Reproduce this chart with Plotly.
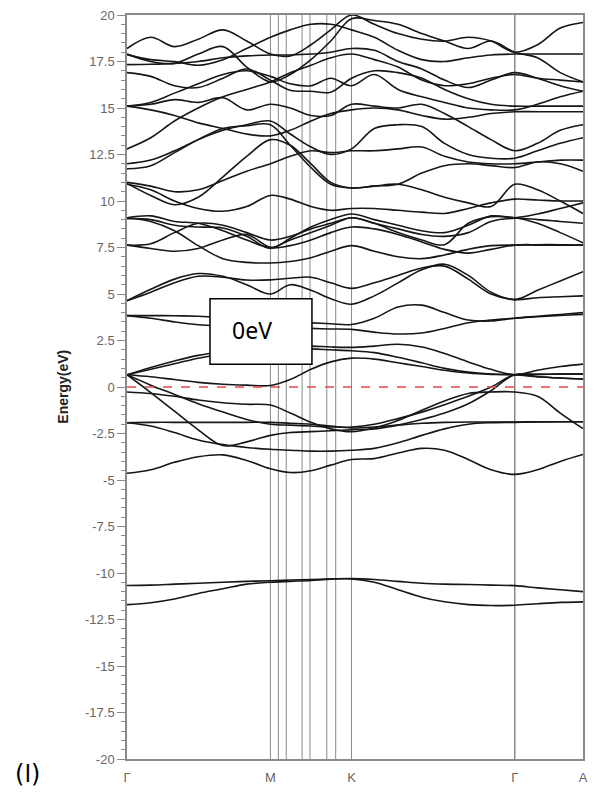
import plotly.graph_objects as go

# ---- k-path (distance along Γ-M-K-Γ-A) ----
k_samples = [0, 24, 48, 72, 97, 121, 145, 165, 186, 206, 227, 250, 274, 298, 321, 345, 368, 392, 415, 438, 461]
sym_points = [0, 145, 227, 392, 461]
sym_labels = ["Γ", "M", "K", "Γ", "A"]
kpath_lines = [145, 153, 161, 177, 185, 202, 211, 227, 392]

y_tickvals = [20, 17.5, 15, 12.5, 10, 7.5, 5, 2.5, 0, -2.5, -5, -7.5, -10, -12.5, -15, -17.5, -20]
y_ticktext = ["20", "17.5", "15", "12.5", "10", "7.5", "5", "2.5", "0", "-2.5", "-5", "-7.5", "-10", "-12.5", "-15", "-17.5", "-20"]
fermi_energy = 0.0

# ---- bands (eV) at k_samples ----
band_s1 = [-10.67, -10.65, -10.6, -10.55, -10.5, -10.45, -10.42, -10.38, -10.35, -10.32, -10.3, -10.35, -10.45, -10.55, -10.6, -10.62, -10.65, -10.68, -10.8, -10.9, -11.0]
band_s2 = [-11.7, -11.6, -11.4, -11.1, -10.85, -10.6, -10.5, -10.45, -10.4, -10.33, -10.32, -10.5, -10.9, -11.3, -11.55, -11.7, -11.75, -11.73, -11.65, -11.58, -11.55]

band_v1 = [-4.64, -4.45, -4.05, -3.75, -3.65, -3.95, -4.4, -4.6, -4.5, -4.2, -3.9, -3.85, -3.55, -3.3, -3.4, -3.9, -4.45, -4.7, -4.45, -4.0, -3.63]
band_v2 = [-1.92, -2.1, -2.45, -2.85, -3.1, -3.25, -3.35, -3.4, -3.45, -3.45, -3.4, -3.3, -3.0, -2.6, -2.25, -2.0, -1.92, -1.9, -1.88, -1.87, -1.87]
band_v3 = [-1.92, -1.9, -1.9, -1.9, -1.9, -1.9, -1.9, -1.95, -2.0, -2.1, -2.2, -2.15, -2.05, -1.95, -1.9, -1.88, -1.88, -1.88, -1.87, -1.87, -1.87]
band_v4 = [0.66, -0.3, -1.3, -2.3, -3.15, -2.95, -2.6, -2.45, -2.4, -2.35, -2.3, -2.25, -2.05, -1.75, -1.4, -0.9, -0.2, 0.66, 0.55, 0.48, 0.43]
band_v5 = [0.66, 0.1, -0.4, -0.9, -1.35, -1.75, -2.0, -2.05, -2.1, -2.15, -2.15, -2.0, -1.7, -1.35, -0.95, -0.5, 0.0, 0.66, 0.68, 0.69, 0.69]
band_v6 = [-0.27, -0.35, -0.5, -0.7, -0.85, -0.93, -0.97, -1.4, -1.9, -2.25, -2.4, -2.2, -1.8, -1.25, -0.75, -0.35, -0.27, -0.27, -0.5, -1.4, -2.24]
band_c1 = [0.66, 0.55, 0.4, 0.25, 0.15, 0.1, 0.08, 0.4, 0.95, 1.35, 1.55, 1.5, 1.3, 1.1, 0.9, 0.75, 0.68, 0.66, 0.55, 0.48, 0.43]
band_c2 = [0.66, 0.95, 1.25, 1.55, 1.75, 1.9, 2.0, 2.05, 2.05, 2.0, 1.95, 1.85, 1.6, 1.3, 1.0, 0.8, 0.7, 0.66, 0.68, 0.69, 0.69]
band_c3 = [0.66, 1.05, 1.4, 1.7, 1.9, 2.05, 2.15, 2.2, 2.2, 2.15, 2.13, 2.2, 2.3, 2.15, 1.8, 1.35, 0.95, 0.66, 0.9, 1.1, 1.23]
band_c4 = [3.84, 3.7, 3.5, 3.35, 3.3, 3.28, 3.25, 3.2, 3.15, 3.12, 3.1, 2.95, 2.85, 2.9, 3.15, 3.45, 3.6, 3.7, 3.78, 3.85, 3.9]
band_c5 = [3.84, 3.84, 3.83, 3.8, 3.75, 3.65, 3.55, 3.5, 3.45, 3.4, 3.36, 3.7, 4.3, 4.4, 4.0, 3.6, 3.55, 3.7, 3.8, 3.9, 4.0]
band_c6 = [4.64, 5.25, 5.8, 6.1, 5.95, 5.5, 5.0, 5.5, 5.2, 4.75, 4.45, 4.9, 5.6, 6.3, 6.6, 6.0, 5.1, 4.7, 5.2, 5.7, 6.2]
band_c7 = [4.64, 5.1, 5.6, 5.95, 5.9, 5.75, 5.76, 5.85, 5.9, 5.6, 5.3, 5.6, 6.0, 6.4, 6.5, 5.8, 5.0, 4.7, 4.8, 4.85, 4.9]
band_c8 = [9.1, 8.9, 8.4, 7.6, 6.9, 6.7, 6.67, 6.75, 6.95, 7.3, 7.6, 7.3, 7.0, 6.9, 7.1, 7.4, 7.6, 7.63, 7.63, 7.63, 7.63]
band_c9 = [7.63, 7.7, 8.3, 8.8, 8.7, 8.3, 7.9, 8.1, 8.5, 8.8, 9.1, 8.8, 8.3, 7.9, 7.65, 8.8, 9.15, 9.1, 8.8, 8.3, 7.75]
band_c10 = [7.63, 7.45, 7.3, 7.45, 7.9, 8.2, 7.5, 7.6, 7.9, 8.3, 8.6, 8.5, 8.2, 7.8, 7.4, 7.2, 7.4, 7.63, 7.65, 7.65, 7.63]
band_c11 = [9.1, 9.2, 8.9, 8.8, 8.4, 7.9, 7.5, 7.9, 8.3, 8.7, 9.1, 8.8, 8.5, 8.2, 8.1, 8.3, 8.9, 9.07, 9.0, 8.9, 8.8]
band_c12 = [9.05, 9.0, 8.7, 8.6, 8.55, 8.1, 7.45, 8.0, 8.6, 9.0, 9.3, 9.0, 8.7, 8.4, 8.3, 8.7, 9.2, 9.1, 9.3, 9.6, 9.9]
band_c13 = [10.9, 10.6, 10.0, 9.6, 9.45, 9.7, 10.3, 10.1, 9.7, 9.5, 9.6, 9.6, 9.5, 9.4, 9.33, 9.6, 9.9, 10.1, 10.05, 10.0, 10.0]
band_c14 = [10.95, 10.3, 9.8, 10.2, 11.3, 12.4, 13.3, 13.0, 12.0, 11.0, 10.7, 10.8, 10.9, 10.6, 10.2, 9.9, 9.7, 10.9, 10.6, 10.0, 9.33]
band_c15 = [12.0, 12.2, 12.7, 13.3, 13.8, 14.1, 14.3, 13.6, 12.9, 12.5, 12.8, 13.9, 14.1, 14.0, 13.1, 12.5, 12.3, 12.3, 12.7, 13.1, 13.4]
band_c16 = [11.73, 11.9, 12.6, 13.3, 13.9, 14.05, 14.1, 13.0, 11.8, 10.9, 10.7, 10.8, 10.9, 11.5, 11.9, 12.0, 11.9, 11.8, 12.1, 12.0, 11.6]
band_c17 = [11.0, 10.8, 10.5, 10.6, 11.1, 11.6, 12.0, 12.4, 12.7, 12.6, 12.7, 12.7, 12.8, 12.9, 12.4, 12.1, 12.0, 12.0, 12.1, 12.2, 12.2]
band_c18 = [15.1, 15.2, 15.45, 15.3, 15.55, 14.9, 15.2, 15.0, 14.6, 14.6, 15.2, 15.1, 15.0, 15.2, 14.7, 14.0, 13.3, 12.7, 13.1, 13.8, 14.1]
band_c19 = [15.1, 14.9, 14.6, 14.2, 13.9, 13.6, 13.5, 13.8, 14.3, 14.7, 14.9, 15.0, 14.9, 14.6, 14.4, 14.5, 14.7, 14.8, 14.8, 14.8, 14.8]
band_c20 = [12.8, 13.4, 14.3, 15.0, 15.6, 16.0, 16.4, 16.9, 17.3, 17.7, 17.9, 17.6, 17.2, 16.5, 16.2, 16.3, 16.6, 16.8, 16.6, 16.5, 16.4]
band_c21 = [18.2, 18.8, 18.3, 18.7, 19.2, 18.6, 17.9, 17.8, 18.4, 19.2, 20.0, 19.5, 19.0, 18.7, 18.6, 18.8, 18.6, 18.0, 18.4, 19.3, 19.6]
band_c22 = [17.9, 17.5, 17.4, 17.9, 18.3, 17.2, 16.4, 16.8, 17.6, 18.6, 19.8, 19.7, 19.5, 19.0, 18.6, 18.2, 18.6, 18.0, 17.7, 16.9, 16.4]
band_c23 = [17.33, 17.35, 17.4, 17.5, 17.7, 17.8, 17.85, 17.85, 17.9, 18.0, 18.2, 18.1, 17.5, 17.1, 16.5, 16.1, 16.5, 16.9, 16.6, 16.2, 15.9]
band_c24 = [16.9, 16.7, 16.2, 16.1, 16.6, 17.1, 16.5, 15.95, 15.9, 15.85, 16.6, 17.0, 16.9, 16.6, 16.0, 15.5, 15.2, 15.1, 15.1, 15.1, 15.1]
band_c25 = [17.87, 17.6, 17.5, 17.3, 17.6, 18.2, 18.8, 19.2, 19.5, 19.5, 19.2, 18.8, 18.1, 17.6, 17.5, 17.7, 17.85, 17.9, 17.9, 17.9, 17.9]
band_c26 = [15.1, 15.3, 15.8, 16.3, 16.8, 17.0, 16.7, 16.3, 16.2, 16.6, 16.2, 16.8, 16.0, 15.6, 15.3, 15.0, 14.9, 14.9, 15.2, 15.6, 15.9]

bands = [band_s1, band_s2, band_v1, band_v2, band_v3, band_v4, band_v5, band_v6,
         band_c1, band_c2, band_c3, band_c4, band_c5, band_c6, band_c7, band_c8,
         band_c9, band_c10, band_c11, band_c12, band_c13, band_c14, band_c15,
         band_c16, band_c17, band_c18, band_c19, band_c20, band_c21, band_c22,
         band_c23, band_c24, band_c25, band_c26]

fig = go.Figure()

for b in bands:
    fig.add_trace(go.Scatter(x=k_samples, y=b, mode="lines",
                             line=dict(color="#161616", width=1.6, shape="spline", smoothing=1.0),
                             showlegend=False, hoverinfo="skip"))

# Fermi level
fig.add_trace(go.Scatter(x=[sym_points[0], sym_points[-1]], y=[fermi_energy, fermi_energy], mode="lines",
                         line=dict(color="#e8454a", width=1.6, dash="dash"),
                         showlegend=False, hoverinfo="skip"))

# vertical k-path lines
for kx in kpath_lines:
    fig.add_shape(type="line", xref="x", yref="paper", x0=kx, x1=kx, y0=0, y1=1,
                  line=dict(color="#8a8a8a", width=1.5 if kx == sym_points[3] else 1), layer="below")

# 0eV box
fig.add_shape(type="rect", xref="paper", yref="paper", x0=0.182, x1=0.4056, y0=0.5307, y1=0.6187,
              fillcolor="white", line=dict(color="black", width=1.5), layer="above")
fig.add_annotation(text="0eV", xref="paper", yref="paper", x=0.275, y=0.577, showarrow=False,
                   font=dict(family="Noto Sans", size=23, color="black"), xanchor="center", yanchor="middle")

# axis title
fig.add_annotation(text="<b>Energy(eV)</b>", xref="paper", yref="paper", x=-0.141, y=0.5, showarrow=False,
                   textangle=-90, font=dict(family="Liberation Sans", size=14, color="#222"),
                   xanchor="center", yanchor="middle")

# panel label
fig.add_annotation(text="(ا)", xref="paper", yref="paper", x=-0.219, y=-0.02, showarrow=False,
                   font=dict(family="DejaVu Sans", size=24, color="black"), xanchor="center", yanchor="middle")

fig.update_layout(
    width=596, height=793,
    margin=dict(l=127, r=8, t=10, b=33),
    paper_bgcolor="white", plot_bgcolor="white",
    xaxis=dict(range=[sym_points[0], sym_points[-1]], tickvals=sym_points, ticktext=sym_labels,
               showgrid=False, zeroline=False, showline=True, linecolor="#8a8a8a", linewidth=1.5,
               mirror=True, ticks="", ticklabelstandoff=6,
               tickfont=dict(family="Liberation Sans", size=13, color="#666")),
    yaxis=dict(range=[-20, 20], tickvals=y_tickvals, ticktext=y_ticktext,
               showgrid=False, zeroline=False, showline=True, linecolor="#8a8a8a", linewidth=1.5,
               mirror=True, ticks="outside", ticklen=8, tickcolor="#8a8a8a", tickwidth=1,
               minor=dict(dtick=0.5, tick0=0, ticks="outside", ticklen=4, tickcolor="#8a8a8a", showgrid=False),
               tickfont=dict(family="Liberation Sans", size=13, color="#666")),
)

fig.write_html("out.html")
